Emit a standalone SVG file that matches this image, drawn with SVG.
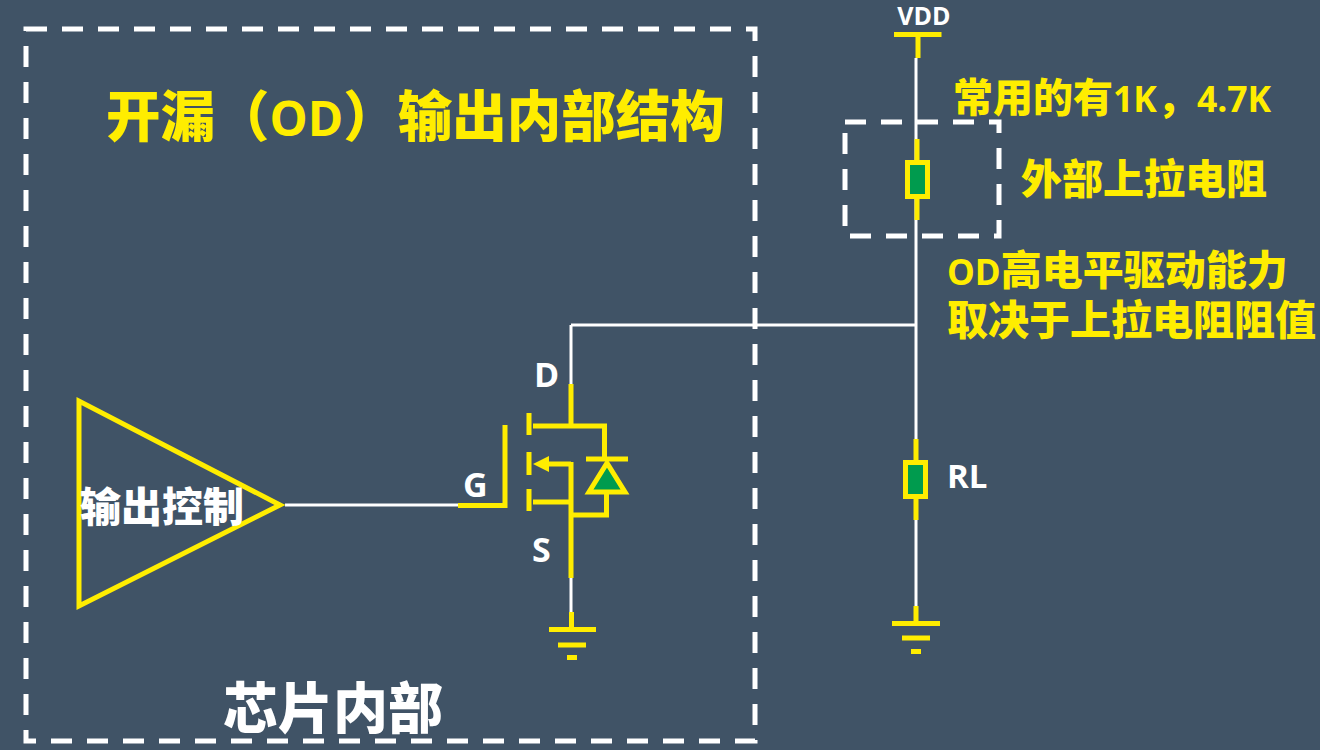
<svg xmlns="http://www.w3.org/2000/svg" width="1320" height="750" viewBox="0 0 1320 750">
<style>
text{font-family:"Open Sans","Noto Sans","Noto Sans CJK SC",sans-serif;font-weight:700}
.cjk{font-family:"Noto Sans CJK SC",sans-serif;font-weight:900}
.lat{font-family:"Open Sans","Noto Sans",sans-serif;font-weight:700}
.y{fill:#ffed00}
.w{fill:#fff}
.wl{stroke:#fff;stroke-width:3;fill:none}
.yl{stroke:#ffed00;stroke-width:5;fill:none}
.dash{stroke:#fff;stroke-width:5;fill:none;stroke-dasharray:21 15}
.res{fill:#009b4e;stroke:#ffed00;stroke-width:5}
</style>
<rect width="1320" height="750" fill="#405366"/>
<g id="chip-boundary"><rect x="26" y="29" width="729" height="712" class="dash"/></g>
<g id="pullup-boundary"><rect x="845" y="122" width="154" height="114" class="dash"/></g>
<g id="connectors">
<path class="wl" d="M916 58V325M916 220V440M916 520V606M571 325H916M571 325V385M571 578V612M285 505H458"/>
</g>
<g id="vdd">
<path class="yl" d="M894 34.500H941.500M918 34.500V58"/>
<text x="924" y="25" text-anchor="middle" font-size="25" class="w">VDD</text>
</g>
<g id="pullup-resistor">
<path class="yl" d="M917 139V162M917 198V220"/>
<rect x="907.500" y="162.500" width="20" height="34" class="res"/>
</g>
<g id="rl">
<path class="yl" d="M916 439V461M916 498V520"/>
<rect x="905.500" y="462.500" width="20" height="34" class="res"/>
<text x="947" y="488" font-size="33" class="w">RL</text>
</g>
<g id="ground-right">
<path class="yl" d="M916 606V623M892 623.500H940M902 638H930M911 651.500H921"/>
</g>
<g id="ground-mosfet">
<path class="yl" d="M571.500 612V629M549 629.500H596M558 645H586M567 657.500H577"/>
</g>
<g id="mosfet">
<path class="yl" d="M571 384V426M533 426H604.500V458M529 413V435M529 452V475M529 489V511M533 502H571M571 462V578M571 464H540M571 515H606.500V490"/>
<path d="M533 464L549 456V472Z" class="y"/>
<path class="yl" d="M586 459H628"/>
<path d="M607 463L625 492H589Z" fill="#009b4e" stroke="#ffed00" stroke-width="5"/>
<path class="yl" d="M458 505.500H505V425"/>
<text x="534" y="387" font-size="34" class="w">D</text>
<text x="463" y="497" font-size="34" class="w">G</text>
<text x="532" y="562" font-size="34" class="w">S</text>
</g>
<g id="buffer">
<path d="M79 401V606L280 505Z" fill="none" stroke="#ffed00" stroke-width="5"/>
<text x="80" y="522" font-size="41" class="w cjk">输出控制</text>
</g>
<g id="labels">
<text x="106" y="136" font-size="54.500" class="y cjk">开漏（<tspan class="lat" font-size="48">OD</tspan>）输出内部结构</text>
<text x="953" y="112" font-size="40" class="y cjk">常用的有<tspan class="lat" font-size="35.500">1K</tspan>，<tspan class="lat" font-size="35.500">4.7K</tspan></text>
<text x="1021" y="194" font-size="41" class="y cjk">外部上拉电阻</text>
<text x="947" y="285" font-size="41" class="y cjk"><tspan class="lat" font-size="35">OD</tspan>高电平驱动能力</text>
<text x="947" y="335" font-size="41" class="y cjk">取决于上拉电阻阻值</text>
<text x="223" y="728" font-size="55" class="w cjk">芯片内部</text>
</g>
</svg>
